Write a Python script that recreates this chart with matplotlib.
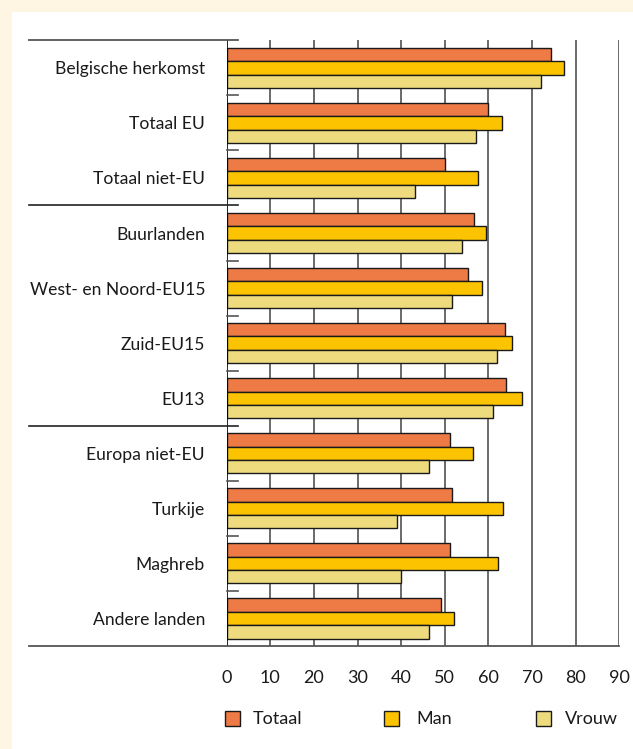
import matplotlib
matplotlib.use("Agg")
import matplotlib.pyplot as plt
from matplotlib.patches import Rectangle
import matplotlib.transforms as mtransforms
import numpy as np

plt.rcParams['font.family'] = ['Lato', 'DejaVu Sans']

categories = ["Belgische herkomst", "Totaal EU", "Totaal niet-EU", "Buurlanden",
              "West- en Noord-EU15", "Zuid-EU15", "EU13", "Europa niet-EU",
              "Turkije", "Maghreb", "Andere landen"]
totaal = [74.4, 60.0, 50.1, 56.7, 55.4, 63.8, 64.1, 51.1, 51.6, 51.1, 49.2]
man = [77.3, 63.0, 57.6, 59.5, 58.6, 65.3, 67.6, 56.4, 63.4, 62.1, 52.1]
vrouw = [72.0, 57.1, 43.1, 53.9, 51.6, 62.0, 61.1, 46.4, 39.1, 40.0, 46.4]
series_names = ["Totaal", "Man", "Vrouw"]
series_colors = ["#EE7A45", "#FCC400", "#EDDB7E"]
xticks = [0, 10, 20, 30, 40, 50, 60, 70, 80, 90]

FS = 12.6
W, H = 633, 749
fig = plt.figure(figsize=(W / 100, H / 100), dpi=100)
fig.patch.set_facecolor("#FFF5E3")
# white panel
fig.add_artist(Rectangle((12 / W, 0), 1 - 12 / W, 1 - 12 / H, transform=fig.transFigure,
                         facecolor="white", edgecolor="none", zorder=0))

x0, x1 = 226.7, 619.3
y_top, y_bot = 40.3, 646.0
ax = fig.add_axes([x0 / W, 1 - y_bot / H, (x1 - x0) / W, (y_bot - y_top) / H])
ax.set_facecolor("none")
ax.set_xlim(0, 90)
n = len(categories)
ax.set_ylim(n, 0)

for s in ax.spines.values():
    s.set_visible(False)

# gridlines
for t in xticks[1:]:
    ax.axvline(t, color="#5f5f5f", lw=1.3, zorder=1)
ax.axvline(0, color="black", lw=1.2, zorder=3)

bh = 0.243
centers = np.arange(n) + 0.5
for k, (vals, col) in enumerate(zip([totaal, man, vrouw], series_colors)):
    ax.barh(centers + (k - 1) * bh, vals, height=bh, color=col,
            edgecolor="#1a1a1a", linewidth=1.0, zorder=2)

ax.set_xticks(xticks)
ax.set_xticklabels([str(t) for t in xticks], fontsize=FS + 0.4, color="#1a1a1a")
ax.set_yticks(centers)
ax.set_yticklabels(categories, fontsize=FS, color="#1a1a1a")
ax.tick_params(axis="x", length=0, pad=17)
ax.tick_params(axis="y", length=0, pad=15.6)

trans = mtransforms.blended_transform_factory(ax.transAxes, ax.transData)
xl = (29 - x0) / (x1 - x0)
xr = (238 - x0) / (x1 - x0)
# top line
ax.plot([xl, xr], [0, 0], transform=trans, color="#555555", lw=1.3, clip_on=False, zorder=4)
# bottom line
ax.plot([xl, 1.0], [n, n], transform=trans, color="#555555", lw=1.3, clip_on=False, zorder=4)
# group separators and small ticks
for b in range(1, n):
    if b in (3, 7):
        ax.plot([xl, xr], [b, b], transform=trans, color="#222222", lw=1.2, clip_on=False, zorder=4)
    else:
        ax.plot([0, xr], [b, b], transform=trans, color="#555555", lw=1.2, clip_on=False, zorder=4)

# legend
leg_sq_x = [225, 384, 536]
leg_txt_x = [253, 416, 565]
ly = 718.5
for name, col, sx, tx in zip(series_names, series_colors, leg_sq_x, leg_txt_x):
    fig.add_artist(Rectangle((sx / W, 1 - (ly + 7.5) / H), 15 / W, 15 / H,
                             transform=fig.transFigure, facecolor=col,
                             edgecolor="#1a1a1a", linewidth=1.0))
    fig.text(tx / W, 1 - ly / H, name, fontsize=FS + 0.4, color="#1a1a1a",
             ha="left", va="center")

fig.savefig("out.png", dpi=100, facecolor=fig.get_facecolor())
